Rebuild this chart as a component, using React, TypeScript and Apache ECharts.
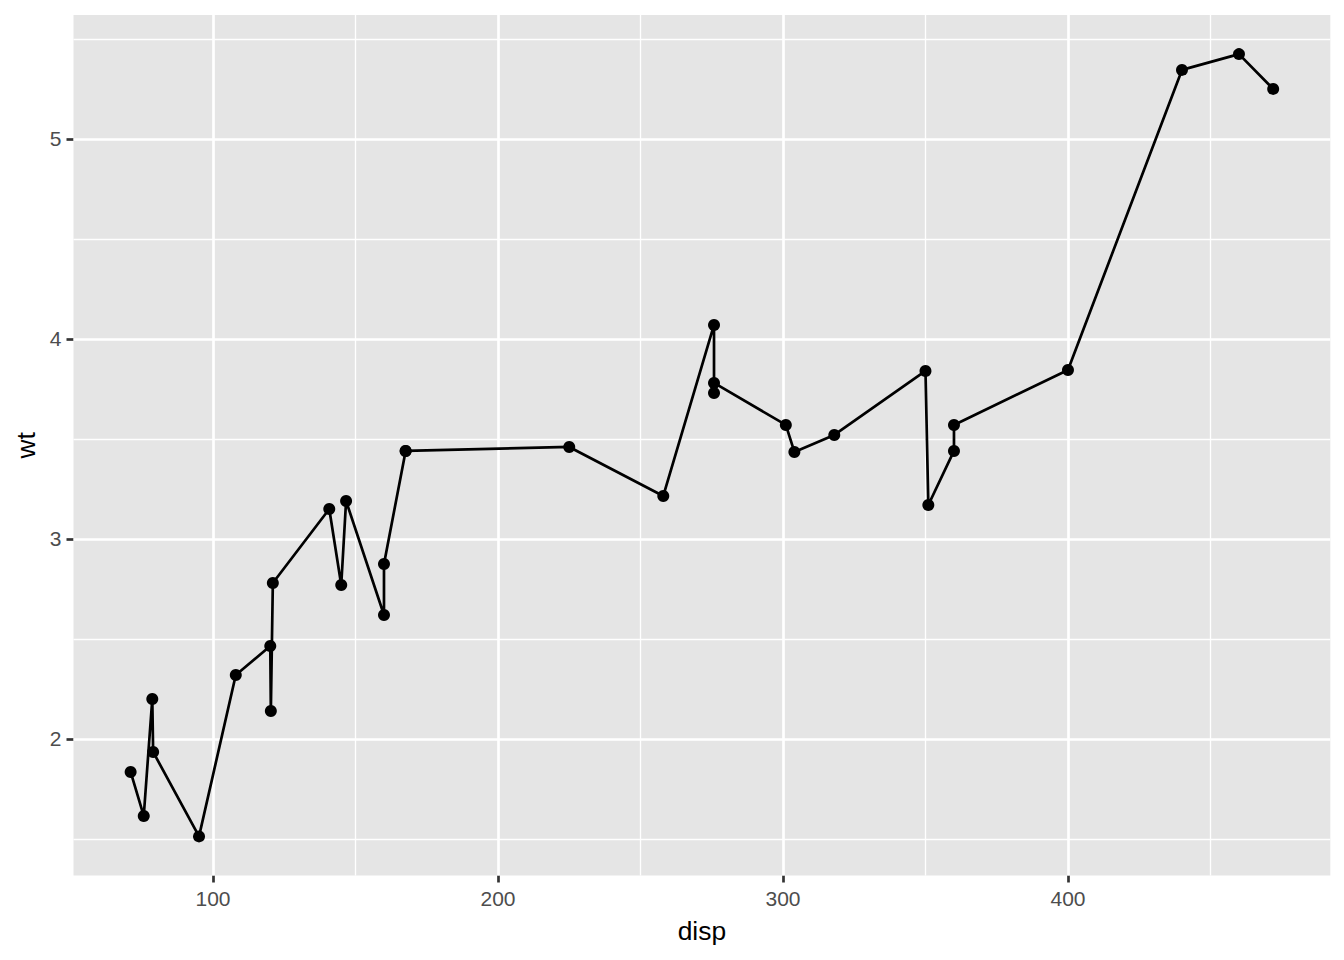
import React, { useEffect, useRef } from "react";
import * as echarts from "echarts";

// mtcars, sorted by disp (as geom_line does)
const disp = [71.1, 75.7, 78.7, 79.0, 95.1, 108, 120.1, 120.3, 121, 140.8, 145, 146.7, 160, 160, 167.6, 167.6, 225, 258, 275.8, 275.8, 275.8, 301, 304, 318, 350, 351, 360, 360, 400, 440, 460, 472];
const wt = [1.835, 1.615, 2.2, 1.935, 1.513, 2.32, 2.465, 2.14, 2.78, 3.15, 2.77, 3.19, 2.62, 2.875, 3.44, 3.44, 3.46, 3.215, 4.07, 3.73, 3.78, 3.57, 3.435, 3.52, 3.84, 3.17, 3.44, 3.57, 3.845, 5.345, 5.424, 5.25];

const xTicks = [100, 200, 300, 400];
const xMinor = [150, 250, 350, 450];
const yTicks = [2, 3, 4, 5];
const yMinor = [1.5, 2.5, 3.5, 4.5, 5.5];

const xMin = 51.055;
const xMax = 492.045;
const yMin = 1.31745;
const yMax = 5.61955;

const FONT = "'Liberation Sans', Arial, Helvetica, sans-serif";

export default function App() {
  const ref = useRef<HTMLDivElement>(null);
  useEffect(() => {
    if (!ref.current) return;
    const chart = echarts.init(ref.current, undefined, { renderer: "svg" });
    const gridLines = [
      ...xMinor.map((v) => ({ xAxis: v, lineStyle: { color: "#FFFFFF", width: 1.3, type: "solid" } })),
      ...yMinor.map((v) => ({ yAxis: v, lineStyle: { color: "#FFFFFF", width: 1.3, type: "solid" } })),
      ...xTicks.map((v) => ({ xAxis: v, lineStyle: { color: "#FFFFFF", width: 2.7, type: "solid" } })),
      ...yTicks.map((v) => ({ yAxis: v, lineStyle: { color: "#FFFFFF", width: 2.7, type: "solid" } })),
    ];
    chart.setOption({
      animation: false,
      textStyle: { fontFamily: FONT },
      grid: {
        left: 73.5,
        right: 13.7,
        top: 15,
        bottom: 84.5,
        show: true,
        backgroundColor: "#E5E5E5",
        borderWidth: 0,
      },
      xAxis: {
        type: "value",
        min: xMin,
        max: xMax,
        name: "disp",
        nameLocation: "middle",
        nameGap: 42,
        nameTextStyle: { color: "#000000", fontSize: 26.4, fontFamily: FONT },
        axisLine: { show: false },
        axisTick: { show: true, customValues: xTicks, length: 7, lineStyle: { color: "#333333", width: 2.7 } },
        axisLabel: { customValues: xTicks, color: "#4D4D4D", fontSize: 21, margin: 12, fontFamily: FONT },
        splitLine: { show: false },
      },
      yAxis: {
        type: "value",
        min: yMin,
        max: yMax,
        name: "wt",
        nameLocation: "middle",
        nameGap: 34,
        nameTextStyle: { color: "#000000", fontSize: 26.4, fontFamily: FONT },
        axisLine: { show: false },
        axisTick: { show: true, customValues: yTicks, length: 7, lineStyle: { color: "#333333", width: 2.7 } },
        axisLabel: { customValues: yTicks, color: "#4D4D4D", fontSize: 21, margin: 12, fontFamily: FONT },
        splitLine: { show: false },
      },
      series: [
        {
          type: "line",
          data: [],
          silent: true,
          z: 1,
          markLine: {
            silent: true,
            z: 1,
            symbol: ["none", "none"],
            label: { show: false },
            emphasis: { disabled: true },
            animation: false,
            data: gridLines,
          },
        },
        {
          type: "line",
          z: 5,
          data: disp.map((d, i) => [d, wt[i]]),
          symbol: "circle",
          symbolSize: 12,
          showSymbol: true,
          lineStyle: { color: "#000000", width: 2.7 },
          itemStyle: { color: "#000000" },
          emphasis: { disabled: true },
        },
      ],
    });
    return () => chart.dispose();
  }, []);
  return <div ref={ref} style={{ position: "absolute", left: 0, top: 0, width: 1344, height: 960 }} />;
}
